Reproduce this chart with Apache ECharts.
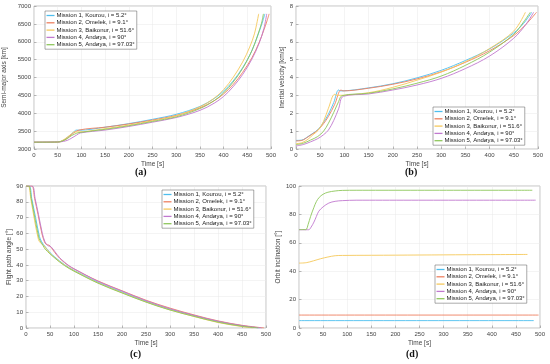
<!DOCTYPE html>
<html><head><meta charset="utf-8">
<script src="https://cdn.jsdelivr.net/npm/echarts@6/dist/echarts.min.js"></script>
<style>html,body{margin:0;padding:0;background:#fff}#c{width:550px;height:364px}</style>
</head><body><div id="c"></div>
<script>
const missionNames = ["Mission 1, Kourou, i = 5.2°","Mission 2, Omelek, i = 9.1°","Mission 3, Baikonur, i = 51.6°","Mission 4, Andøya, i = 90°","Mission 5, Andøya, i = 97.03°"];
const colors = ["#4DBEEE","#EE7F5F","#F5C85A","#C178CF","#8DC65A"];
const timeTicks = [0,50,100,150,200,250,300,350,400,450,500];
const captions = ["(a)","(b)","(c)","(d)"];
const axisNames = ["Semi-major axis [km]","Inertial velocity [km/s]","Flight path angle [°]","Orbit inclination [°]"];

// (a) semi-major axis [km] vs time [s]
const sma_m1 = [[0,3190],[50,3195],[60,3230],[70,3320],[80,3430],[90,3530],[95,3525],[150,3610],[200,3710],[250,3830],[300,3970],[350,4190],[380,4410],[400,4620],[420,4900],[440,5270],[455,5620],[465,5920],[475,6280],[482,6550],[487,6780]];
const sma_m2 = [[0,3190],[50,3195],[60,3220],[70,3300],[80,3410],[95,3530],[150,3610],[200,3700],[250,3810],[300,3940],[350,4150],[380,4350],[400,4540],[420,4800],[440,5140],[460,5560],[475,5980],[485,6330],[492,6600],[496,6780]];
const sma_m3 = [[0,3190],[50,3195],[60,3240],[70,3330],[80,3430],[85,3480],[90,3475],[150,3570],[200,3670],[250,3790],[300,3930],[350,4180],[380,4420],[400,4660],[420,5000],[440,5430],[455,5850],[465,6220],[474,6780]];
const sma_m4 = [[0,3190],[55,3200],[70,3240],[80,3310],[90,3390],[98,3450],[150,3530],[200,3630],[250,3750],[300,3880],[350,4080],[380,4280],[400,4470],[420,4740],[440,5080],[460,5520],[475,5960],[485,6370],[491,6780]];
const sma_m5 = [[0,3190],[50,3195],[60,3225],[70,3290],[80,3380],[90,3440],[95,3460],[150,3550],[200,3650],[250,3770],[300,3900],[350,4130],[380,4350],[400,4570],[420,4870],[440,5250],[460,5760],[472,6190],[480,6520],[484,6780]];

// (b) inertial velocity [km/s]
const vel_m1 = [[0,0.48],[12,0.5],[25,0.7],[35,0.88],[46,1.1],[57,1.5],[67,1.95],[78,2.6],[88,3.3],[92,3.25],[150,3.42],[200,3.65],[250,3.98],[300,4.4],[350,4.95],[400,5.6],[450,6.5],[470,7.02],[487,7.65]];
const vel_m2 = [[0,0.45],[12,0.48],[25,0.68],[35,0.86],[46,1.08],[57,1.42],[67,1.82],[80,2.5],[93,3.3],[97,3.25],[150,3.4],[200,3.62],[250,3.92],[300,4.32],[350,4.85],[400,5.5],[450,6.35],[475,6.97],[497,7.65]];
const vel_m3 = [[0,0.3],[12,0.35],[25,0.55],[35,0.8],[46,1.05],[57,1.55],[67,2.28],[80,3.06],[85,3.0],[150,3.15],[200,3.45],[250,3.85],[300,4.3],[350,4.88],[400,5.62],[450,6.6],[474,7.65]];
const vel_m4 = [[0,0.17],[15,0.25],[30,0.4],[45,0.58],[57,0.8],[67,1.06],[78,1.6],[88,2.25],[98,2.95],[150,3.08],[200,3.3],[250,3.58],[300,3.95],[350,4.5],[400,5.2],[450,6.2],[475,6.97],[491,7.65]];
const vel_m5 = [[0,0.24],[15,0.32],[30,0.5],[45,0.7],[57,1.0],[67,1.44],[78,2.05],[88,2.65],[95,2.98],[150,3.12],[200,3.36],[250,3.68],[300,4.08],[350,4.68],[400,5.42],[450,6.42],[470,7.1],[484,7.65]];

// (c) flight path angle [deg]
const fpa_m1 = [[0,90],[7,90],[12,82],[20,70],[28,58],[32,55],[36,53],[40,51.5],[50,47.8],[60,45],[70,42.5],[80,40.2],[90,38.2],[100,36.5],[150,29],[200,22.8],[250,16.9],[300,11.9],[350,7.9],[400,4.1],[450,1.4],[487,0]];
const fpa_m2 = [[0,90],[12,90],[18,82],[25,72],[33,60],[38,55],[42,53],[48,52.5],[50,52],[55,50],[60,47.8],[70,44.2],[80,41.5],[90,39.2],[100,37.4],[150,29.8],[200,23.6],[250,17.6],[300,12.6],[350,8.3],[400,4.5],[450,1.7],[496,0]];
const fpa_m3 = [[0,90],[5,90],[10,82],[18,68],[26,56],[30,54],[34,53],[38,52],[50,47.3],[60,44.6],[70,42.1],[80,39.9],[90,37.9],[100,36.2],[150,28.6],[200,22.4],[250,16.5],[300,11.5],[350,7.3],[400,3.5],[450,0.9],[474,0]];
const fpa_m4 = [[0,90],[13,90],[19,82],[26,72],[34,60],[39,55],[43,53],[47,52],[52,51.5],[60,48.5],[70,44.6],[80,41.8],[90,39.4],[100,37.6],[150,29.6],[200,23.4],[250,17.3],[300,12.2],[350,8],[400,4.3],[450,1.5],[491,0]];
const fpa_m5 = [[0,90],[6,90],[11,82],[19,69],[27,57],[31,54.5],[35,52.5],[40,50],[50,47],[60,44.3],[70,41.8],[80,39.6],[90,37.7],[100,36],[150,28.4],[200,22.2],[250,16.4],[300,11.4],[350,7.4],[400,3.7],[450,1.1],[484,0]];

// (d) orbit inclination [deg]
const inc_m1 = [[0,5.2],[487,5.2]];
const inc_m2 = [[0,9.1],[497,9.1]];
const inc_m3 = [[0,45.7],[15,46],[30,47.3],[45,48.8],[60,50],[75,50.9],[90,51.1],[150,51.2],[250,51.4],[350,51.6],[474,51.8]];
const inc_m4 = [[0,69.2],[20,69.2],[25,71],[31,74.6],[36,78.5],[41,82.2],[50,85.3],[62,88],[75,89.2],[90,89.7],[120,90],[491,90]];
const inc_m5 = [[0,69.3],[14,69.3],[19,73],[24,78.5],[31,85],[36,89],[42,92],[50,94.2],[60,95.6],[75,96.5],[90,96.9],[120,97],[484,97]];

const panels = [
  {sets:[sma_m1,sma_m2,sma_m3,sma_m4,sma_m5], min:3000, max:7000, interval:500, grid:{left:29,top:6,width:242,height:143}, nameGap:26, legend:{left:45,top:11}, cap:[144,174]},
  {sets:[vel_m1,vel_m2,vel_m3,vel_m4,vel_m5], min:0, max:8, interval:1, grid:{left:296,top:6,width:242,height:143}, nameGap:6, legend:{left:433,top:107}, cap:[414,174]},
  {sets:[fpa_m1,fpa_m2,fpa_m3,fpa_m4,fpa_m5], min:0, max:90, interval:10, grid:{left:26,top:186,width:240,height:142}, nameGap:12, legend:{left:162,top:190}, cap:[139,356]},
  {sets:[inc_m1,inc_m2,inc_m3,inc_m4,inc_m5], min:0, max:100, interval:20, grid:{left:299,top:186,width:241,height:142}, nameGap:14, legend:{left:435,top:265}, cap:[415,356]}
];

const FONT = "Liberation Sans";
const grids=[], xAxes=[], yAxes=[], series=[], legends=[], graphics=[];
panels.forEach((p,i)=>{
  grids.push(Object.assign({show:true, borderColor:'#9a9a9a', borderWidth:0.6, backgroundColor:'#fff'}, p.grid));
  xAxes.push({type:'value', gridIndex:i, min:0, max:500, interval:50,
    name:'Time [s]', nameLocation:'middle', nameGap:12,
    nameTextStyle:{fontFamily:FONT, fontSize:6.5, color:'#444'},
    axisLine:{show:false}, axisTick:{inside:true, length:2.5, lineStyle:{color:'#777', width:0.5}},
    axisLabel:{fontFamily:FONT, fontSize:6, color:'#444', margin:3, formatter:v=>String(v)},
    splitLine:{show:true, lineStyle:{color:'#e8e8e8', width:0.5}}});
  yAxes.push({type:'value', gridIndex:i, min:p.min, max:p.max, interval:p.interval,
    name:axisNames[i], nameLocation:'middle', nameGap:p.nameGap,
    nameTextStyle:{fontFamily:FONT, fontSize:6.5, color:'#444'},
    axisLine:{show:false}, axisTick:{inside:true, length:2.5, lineStyle:{color:'#777', width:0.5}},
    axisLabel:{fontFamily:FONT, fontSize:6, color:'#444', margin:3, formatter:v=>String(v)},
    splitLine:{show:true, lineStyle:{color:'#e8e8e8', width:0.5}}});
  p.sets.forEach((d,k)=>{
    series.push({type:'line', name:missionNames[k], xAxisIndex:i, yAxisIndex:i, data:d,
      symbol:'none', showSymbol:false, smooth:0.35, animation:false,
      lineStyle:{color:colors[k], width:0.9}, itemStyle:{color:colors[k]}, z:2});
  });
  legends.push({left:p.legend.left, top:p.legend.top, orient:'vertical', data:missionNames,
    itemWidth:8, itemHeight:6, itemGap:1.3, padding:[1.5,2,1.5,1.5],
    backgroundColor:'#fff', borderColor:'#555', borderWidth:0.5,
    textStyle:{fontFamily:FONT, fontSize:6, color:'#222', padding:[0,0,0,-3]},
    icon:'path://M0,0 L10,0 L10,1.6 L0,1.6 Z', selectedMode:false});
  graphics.push({type:'text', left:p.cap[0]-9, top:p.cap[1]-7,
    style:{text:captions[i], fontFamily:'Liberation Serif', fontSize:10, fontWeight:'bold', fill:'#111'}});
});

const chart = echarts.init(document.getElementById('c'), null, {renderer:'canvas'});
chart.setOption({animation:false, color:colors, grid:grids, xAxis:xAxes, yAxis:yAxes, series:series, legend:legends, graphic:graphics});
</script></body></html>
